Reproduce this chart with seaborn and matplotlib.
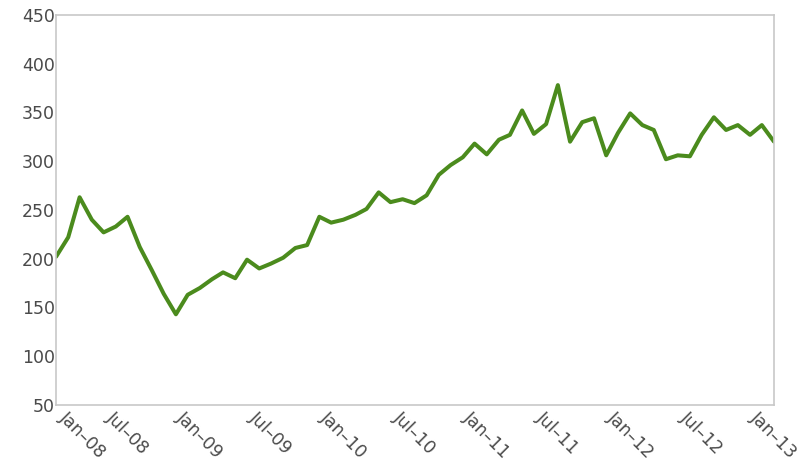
import pandas as pd
import matplotlib
matplotlib.use("Agg")
import matplotlib.pyplot as plt
import matplotlib.transforms as mtransforms
import seaborn as sns

months = pd.date_range("2008-01-01", "2013-01-01", freq="MS")
values = [
    202, 222, 263, 240, 227, 233, 243, 212, 188, 164, 143, 163,   # 2008
    170, 179, 186, 180, 199, 190, 195, 201, 211, 214, 243, 237,   # 2009
    240, 245, 251, 268, 258, 261, 257, 265, 286, 296, 304, 318,   # 2010
    307, 322, 327, 352, 328, 338, 378, 320, 340, 344, 306, 329,   # 2011
    349, 337, 332, 302, 306, 305, 327, 345, 332, 337, 327, 337,   # 2012
    320,                                                          # 2013
]
tick_dates = pd.date_range("2008-01-01", "2013-01-01", freq="6MS")
tick_labels = ["Jan–08", "Jul–08", "Jan–09", "Jul–09", "Jan–10", "Jul–10",
               "Jan–11", "Jul–11", "Jan–12", "Jul–12", "Jan–13"]
y_ticks = [50, 100, 150, 200, 250, 300, 350, 400, 450]

df = pd.DataFrame({"Month": months, "Value": values})

sns.set_style("white")
plt.rcParams["font.family"] = ["DejaVu Sans"]

fig = plt.figure(figsize=(8.04, 4.65), dpi=100)
ax = fig.add_axes([0.0697, 0.129, 0.893, 0.839])

sns.lineplot(data=df, x="Month", y="Value", ax=ax, color="#4b8b1d",
             linewidth=2.9, solid_joinstyle="round", solid_capstyle="round")

ax.set_xlim(months[0], months[-1])
ax.set_ylim(50, 450)
ax.set_yticks(y_ticks)
ax.set_xticks(tick_dates)
ax.set_xticklabels(tick_labels, rotation=-45, ha="center", va="top")
# first label sits to the right of the tick so it clears the "50"
first = ax.get_xticklabels()[0]
first.set_ha("left")
first.set_transform(first.get_transform() +
                    mtransforms.ScaledTranslation(-15 / 100, 0, fig.dpi_scale_trans))
ax.set_xlabel("")
ax.set_ylabel("")
ax.tick_params(axis="both", length=0, labelsize=12.5, labelcolor="#4a4a4a")
ax.tick_params(axis="x", pad=2)
ax.tick_params(axis="y", pad=1)
for s in ax.spines.values():
    s.set_color("#c8c8c8")
    s.set_linewidth(1.2)

fig.savefig("out.png", dpi=100)
